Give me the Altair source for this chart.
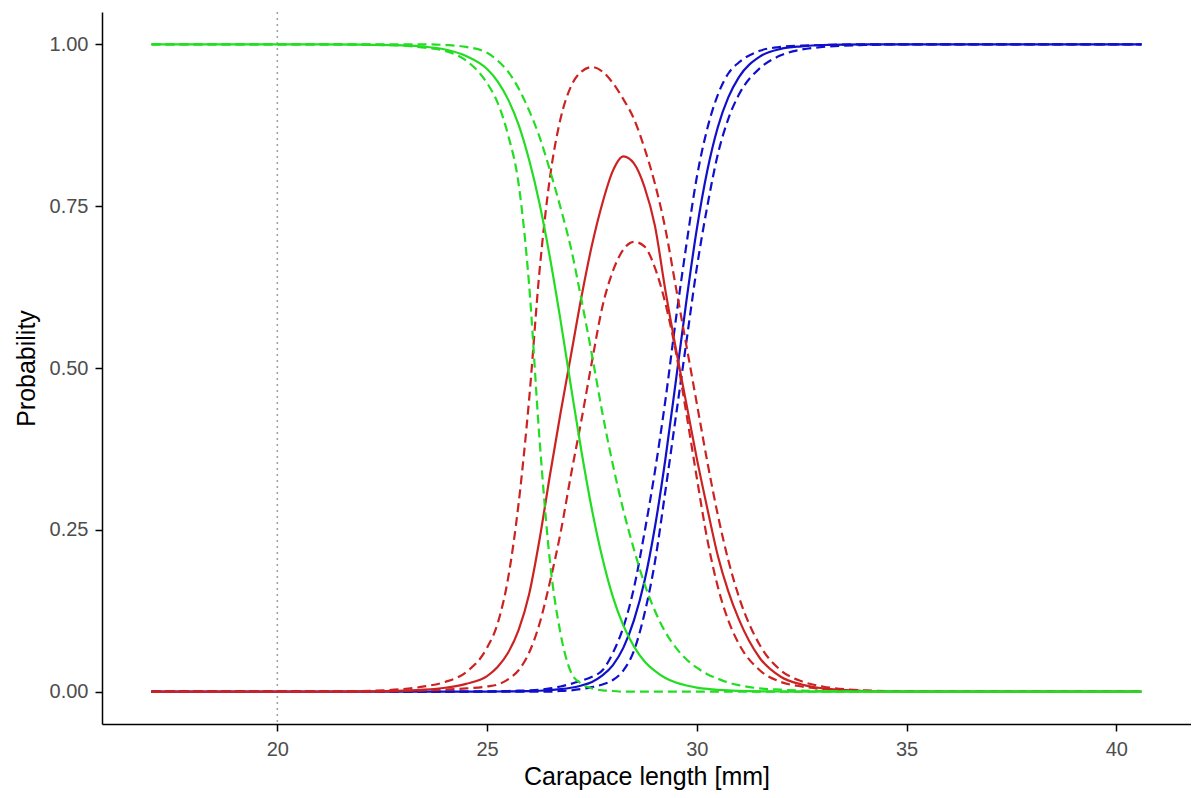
import altair as alt
import pandas as pd

# Carapace length grid [mm]
length_mm = [17.0, 20.0, 21.0, 22.0, 23.0, 23.5, 24.0, 24.5, 25.0, 25.25, 25.5, 25.75,
             26.0, 26.25, 26.5, 26.75, 27.0, 27.25, 27.5, 27.75, 28.0, 28.25, 28.5, 28.75,
             29.0, 29.25, 29.5, 29.75, 30.0, 30.25, 30.5, 30.75, 31.0, 31.5, 32.0, 32.5,
             33.0, 34.0, 35.0, 36.0, 38.0, 40.6]

green_fit = [1.0, 1.0, 1.0, 0.9997, 0.9985, 0.9965, 0.992, 0.982, 0.962, 0.943, 0.915, 0.876,
             0.822, 0.754, 0.670, 0.574, 0.471, 0.371, 0.281, 0.206, 0.146, 0.102, 0.070, 0.047,
             0.032, 0.021, 0.014, 0.0095, 0.0063, 0.0042, 0.0028, 0.0018, 0.0012, 0.0005, 0.0002, 0.0001,
             0.0, 0.0, 0.0, 0.0, 0.0, 0.0]
green_lo = [1.0, 1.0, 1.0, 0.9995, 0.998, 0.995, 0.99, 0.975, 0.94, 0.91, 0.86, 0.785,
            0.63, 0.39, 0.2, 0.09, 0.03, 0.012, 0.005, 0.002, 0.001, 0.0, 0.0, 0.0,
            0.0, 0.0, 0.0, 0.0, 0.0, 0.0, 0.0, 0.0, 0.0, 0.0, 0.0, 0.0,
            0.0, 0.0, 0.0, 0.0, 0.0, 0.0]
green_hi = [1.0, 1.0, 1.0, 1.0, 1.0, 1.0, 0.999, 0.996, 0.987, 0.975, 0.958, 0.932,
            0.898, 0.857, 0.805, 0.748, 0.685, 0.605, 0.52, 0.43, 0.35, 0.28, 0.22, 0.167,
            0.125, 0.092, 0.068, 0.05, 0.037, 0.027, 0.02, 0.014, 0.01, 0.005, 0.003, 0.0015,
            0.001, 0.0003, 0.0, 0.0, 0.0, 0.0]

red_fit = [0.0, 0.0, 0.0, 0.0003, 0.0015, 0.003, 0.006, 0.012, 0.024, 0.038, 0.06, 0.095,
           0.15, 0.235, 0.335, 0.43, 0.52, 0.61, 0.69, 0.755, 0.805, 0.827, 0.816, 0.78,
           0.72, 0.62, 0.53, 0.445, 0.36, 0.283, 0.21, 0.155, 0.112, 0.052, 0.023, 0.011,
           0.005, 0.001, 0.0, 0.0, 0.0, 0.0]
red_hi = [0.0, 0.0, 0.0003, 0.001, 0.004, 0.008, 0.015, 0.03, 0.068, 0.105, 0.175, 0.29,
          0.45, 0.65, 0.795, 0.885, 0.935, 0.958, 0.965, 0.958, 0.94, 0.915, 0.885, 0.84,
          0.785, 0.715, 0.625, 0.535, 0.445, 0.355, 0.273, 0.203, 0.147, 0.072, 0.033, 0.016,
          0.008, 0.002, 0.0005, 0.0, 0.0, 0.0]
red_lo = [0.0, 0.0, 0.0, 0.0, 0.001, 0.002, 0.003, 0.005, 0.008, 0.011, 0.019, 0.033,
          0.06, 0.105, 0.17, 0.245, 0.335, 0.42, 0.51, 0.595, 0.65, 0.683, 0.695, 0.688,
          0.655, 0.6, 0.525, 0.43, 0.33, 0.235, 0.162, 0.11, 0.074, 0.033, 0.015, 0.008,
          0.004, 0.001, 0.0, 0.0, 0.0, 0.0]

blue_fit = [0.0, 0.0, 0.0, 0.0, 0.0, 0.0, 0.0, 0.0, 0.0001, 0.0002, 0.0003, 0.0005,
            0.0008, 0.0014, 0.0023, 0.0038, 0.006, 0.0095, 0.015, 0.025, 0.041, 0.068, 0.11, 0.17,
            0.254, 0.359, 0.48, 0.603, 0.715, 0.805, 0.872, 0.918, 0.949, 0.981, 0.993, 0.997,
            0.999, 1.0, 1.0, 1.0, 1.0, 1.0]
blue_hi = [0.0, 0.0, 0.0, 0.0, 0.0, 0.0, 0.0, 0.0, 0.0005, 0.0008, 0.001, 0.0015,
           0.002, 0.003, 0.005, 0.008, 0.012, 0.017, 0.023, 0.033, 0.06, 0.1, 0.16, 0.245,
           0.34, 0.45, 0.575, 0.69, 0.795, 0.87, 0.922, 0.955, 0.972, 0.99, 0.996, 0.998,
           0.999, 1.0, 1.0, 1.0, 1.0, 1.0]
blue_lo = [0.0, 0.0, 0.0, 0.0, 0.0, 0.0, 0.0, 0.0, 0.0, 0.0, 0.0, 0.0,
           0.0, 0.0, 0.0, 0.001, 0.002, 0.004, 0.007, 0.011, 0.018, 0.033, 0.063, 0.12,
           0.2, 0.31, 0.425, 0.54, 0.655, 0.75, 0.83, 0.885, 0.922, 0.963, 0.983, 0.992,
           0.996, 0.999, 1.0, 1.0, 1.0, 1.0]

GREEN = "#22DD22"
RED = "#CC2222"
BLUE = "#1010CC"

series = [
    ("blue_fit", blue_fit, BLUE, False),
    ("blue_hi", blue_hi, BLUE, True),
    ("blue_lo", blue_lo, BLUE, True),
    ("red_fit", red_fit, RED, False),
    ("red_hi", red_hi, RED, True),
    ("red_lo", red_lo, RED, True),
    ("green_hi", green_hi, GREEN, True),
    ("green_lo", green_lo, GREEN, True),
    ("green_fit", green_fit, GREEN, False),
]

W, H = 1089, 712
FONT = "Liberation Sans"

xscale = alt.Scale(domain=[15.82, 41.78], nice=False, zero=False)
yscale = alt.Scale(domain=[-0.05, 1.05], nice=False, zero=False)

xaxis = alt.Axis(values=[20, 25, 30, 35, 40], grid=False, title="Carapace length [mm]",
                 domainColor="black", domainWidth=1.5, tickColor="black", tickWidth=1.5,
                 tickSize=7, labelPadding=8, labelFontSize=20, labelColor="#4D4D4D",
                 labelFont=FONT, titleFont=FONT, titleFontSize=25, titleFontWeight="normal",
                 titleColor="black", titlePadding=5)
yaxis = alt.Axis(values=[0, 0.25, 0.5, 0.75, 1.0], format=".2f", grid=False, title="Probability",
                 domainColor="black", domainWidth=1.5, tickColor="black", tickWidth=1.5,
                 tickSize=7, labelPadding=7, labelFontSize=20, labelColor="#4D4D4D",
                 labelFont=FONT, titleFont=FONT, titleFontSize=25, titleFontWeight="normal",
                 titleColor="black", titlePadding=10)

vline = alt.Chart(pd.DataFrame({"x": [20.0]})).mark_rule(
    color="#A0A0A0", strokeWidth=1.5, strokeDash=[2, 4]
).encode(
    x=alt.X("x:Q", scale=xscale, axis=xaxis),
    y=alt.value(0), y2=alt.value(H)
)

layers = [vline]
for name, vals, col, dashed in series:
    df = pd.DataFrame({"length": length_mm, "p": vals})
    kw = dict(color=col, strokeWidth=2.2, interpolate="monotone")
    if dashed:
        kw["strokeDash"] = [9, 5]
    layers.append(
        alt.Chart(df).mark_line(**kw).encode(
            x=alt.X("length:Q", scale=xscale, axis=xaxis),
            y=alt.Y("p:Q", scale=yscale, axis=yaxis),
        )
    )

chart = alt.layer(*layers).properties(
    width=W, height=H,
    padding={"left": 94, "top": 4, "right": 0, "bottom": 66},
    autosize=alt.AutoSizeParams(type="none"),
    background="white",
).configure_view(stroke=None)

chart.save("out.html", embed_options={"renderer": "svg", "actions": False})
